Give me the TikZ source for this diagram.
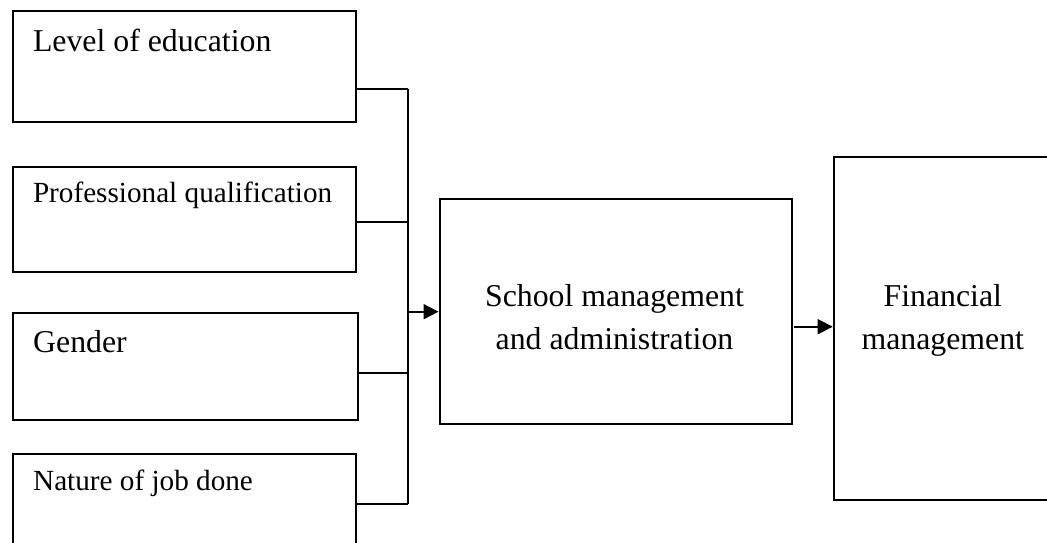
\documentclass[tikz,border=0pt]{standalone}
\usepackage{fontspec}
\setmainfont{Liberation Serif}
\usetikzlibrary{arrows.meta}
\tikzset{
  box/.style={draw=black, line width=2pt, rectangle, inner sep=0pt, anchor=north west},
  conn/.style={draw=black, line width=1.8pt},
  arr/.style={conn, -{Triangle[length=15pt,width=15pt]}},
  bigtxt/.style={font=\fontsize{31.8}{42.8}\selectfont, inner sep=0pt},
  smalltxt/.style={font=\fontsize{29.2}{39}\selectfont, inner sep=0pt},
}
\begin{document}
\begin{tikzpicture}[x=1pt,y=-1pt]
\useasboundingbox (0,0) rectangle (1047,543);
\clip (0,0) rectangle (1047,543);
\fill[white] (0,0) rectangle (1047,543);
% left boxes
\node[box, minimum width=343pt, minimum height=110.5pt] (b1) at (12,10) {};
\node[box, minimum width=343pt, minimum height=105.3pt] (b2) at (12,165.5) {};
\node[box, minimum width=345pt, minimum height=107.4pt] (b3) at (12,311.6) {};
\node[box, minimum width=343pt, minimum height=110pt] (b4) at (12,452.6) {};
\node[bigtxt, anchor=base west] (t1) at (32.8,51.5) {Level of education};
\node[smalltxt, anchor=base west] (t2) at (32.8,202.8) {Professional qualification};
\node[bigtxt, anchor=base west] (t3) at (33,352.5) {Gender};
\node[smalltxt, anchor=base west] (t4) at (33,490.6) {Nature of job done};
% middle and right boxes
\node[box, minimum width=352.5pt, minimum height=224.4pt] (mid) at (438.5,198.3) {};
\node[box, minimum width=240pt, minimum height=342.7pt] (fin) at (832.7,156) {};
\node[bigtxt, anchor=base, align=center] (tm) at (614.5,349.5) {School management\\and administration};
\node[bigtxt, anchor=base, align=center] (tf) at (942.8,349.5) {Financial\\management};
% bus
\coordinate (p1) at (408,88.6);
\coordinate (p2) at (408,221.6);
\coordinate (p3) at (408,373);
\coordinate (p4) at (408,503.8);
\coordinate (pa) at (406.7,311.7);
\coordinate (pb) at (794,326.7);
\draw[conn] (b1.east |- p1) -- (p1);
\draw[conn] (b2.east |- p2) -- (p2);
\draw[conn] ([xshift=-2pt]b3.east |- p3) -- (p3);
\draw[conn] (b4.east |- p4) -- (p4);
\draw[conn] (p1) -- (p4);
\draw[arr] (pa) -- (mid.west |- pa);
\draw[arr] (pb) -- (fin.west |- pb);
\end{tikzpicture}
\end{document}
